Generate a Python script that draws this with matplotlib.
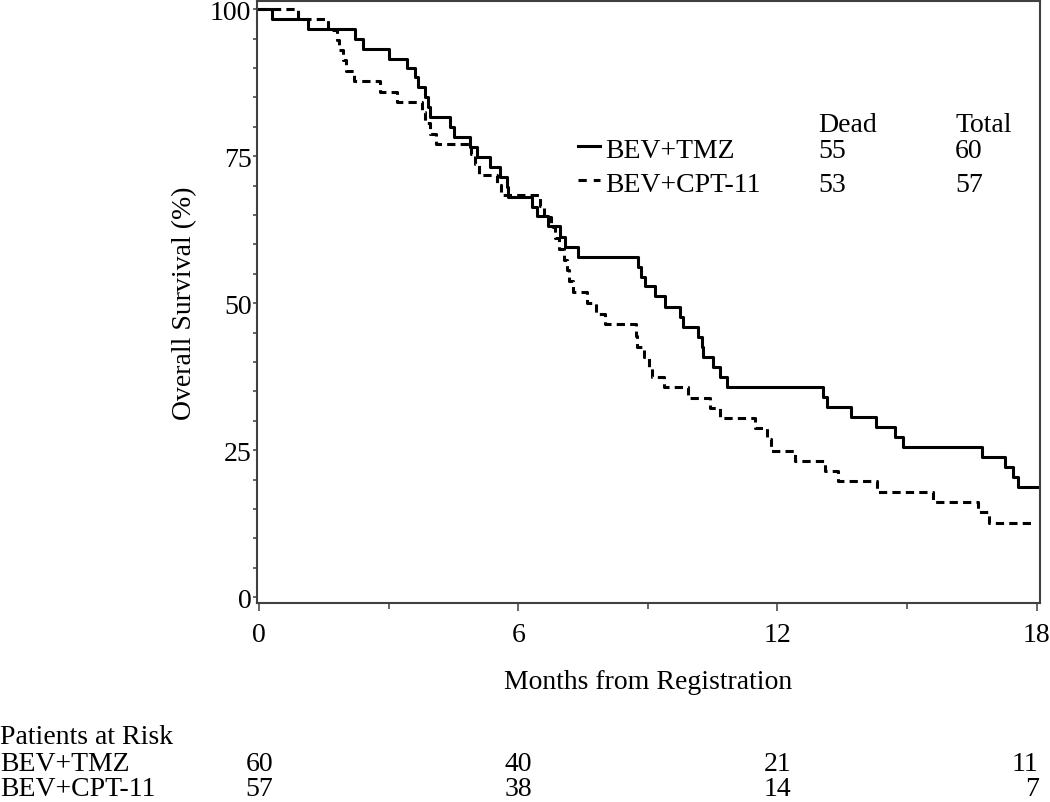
import matplotlib
matplotlib.use("Agg")
import matplotlib.pyplot as plt
from matplotlib.lines import Line2D
from matplotlib.ticker import MultipleLocator
from matplotlib.transforms import blended_transform_factory

plt.rcParams['font.family'] = ['Liberation Serif', 'DejaVu Serif']
plt.rcParams['font.size'] = 20

W, H = 1050, 803

# Kaplan-Meier steps (months, % surviving)
tmz_months = [0, 0.3, 1.13, 2.22, 2.4, 3.0, 3.43, 3.6, 3.68, 3.85, 3.92, 3.96,
              4.42, 4.5, 4.88, 5.04, 5.35, 5.58, 5.74, 5.77, 6.32, 6.43, 6.69,
              6.97, 7.08, 7.38, 8.77, 8.85, 8.94, 9.17, 9.4, 9.75, 9.81, 10.16,
              10.25, 10.28, 10.5, 10.67, 10.83, 13.06, 13.15, 13.7, 14.28, 14.72,
              14.9, 16.73, 17.27, 17.45, 17.58, 18.0]
tmz_surv = [100, 98.3, 96.7, 95.0, 93.3, 91.6, 90.0, 88.5, 86.8, 85.1, 83.4, 81.7,
            80.0, 78.2, 76.6, 74.8, 73.1, 71.4, 69.7, 68.0, 66.4, 64.8, 63.1,
            61.3, 59.5, 57.8, 56.1, 54.4, 53.0, 51.2, 49.3, 47.6, 45.9, 44.2,
            42.5, 40.8, 39.1, 37.4, 35.7, 34.0, 32.3, 30.6, 28.9, 27.2,
            25.5, 23.8, 22.1, 20.4, 18.7, 18.7]

cpt_months = [0, 0.9, 1.6, 1.8, 1.85, 1.95, 2.0, 2.2, 2.8, 3.2, 3.77, 3.85, 3.95,
              4.1, 4.9, 5.0, 5.1, 5.5, 5.6, 6.5, 6.6, 6.75, 6.85, 6.95, 7.05,
              7.12, 7.18, 7.27, 7.6, 7.8, 8.0, 8.73, 8.76, 8.9, 9.02, 9.1, 9.38,
              9.93, 10.44, 10.67, 11.48, 11.75, 11.85, 12.4, 13.1, 13.4, 14.3,
              15.6, 16.65, 16.9, 17.95]
cpt_surv = [100, 98.3, 96.5, 94.8, 93.1, 91.3, 89.5, 87.8, 86.0, 84.2, 82.5, 80.6, 78.8,
            77.1, 75.3, 73.6, 71.8, 70.1, 68.4, 66.6, 64.7, 62.9, 61.1, 59.3, 57.4,
            55.6, 53.8, 51.9, 50.1, 48.2, 46.4, 44.5, 42.6, 40.8, 39.0, 37.4, 35.7,
            33.9, 32.2, 30.4, 28.7, 26.9, 24.9, 23.1, 21.4, 19.7, 17.9,
            16.2, 14.5, 12.6, 12.6]

arms = ['BEV+TMZ', 'BEV+CPT-11']
dead = [55, 53]
total = [60, 57]

risk_months = [0, 6, 12, 18]
risk_tmz = [60, 40, 21, 11]
risk_cpt = [57, 38, 14, 7]


def fx(px):
    return px / W


def fy(py):
    return 1 - py / H


fig = plt.figure(figsize=(W / 100, H / 100), dpi=100)
ax = fig.add_axes([fx(257), fy(604), fx(1040) - fx(257), fy(2) - fy(604)])

lw = 2.2
ax.step(tmz_months, tmz_surv, where='post', color='black', lw=lw)
ax.step(cpt_months, cpt_surv, where='post', color='black', lw=lw, dashes=(2.7, 1.7))

ax.set_xlim(-0.05, 18.08)
ax.set_ylim(-1.0, 101.4)
ax.set_xticks(risk_months)
ax.xaxis.set_minor_locator(MultipleLocator(3))
ax.set_yticks([0, 25, 50, 75, 100])
ax.yaxis.set_minor_locator(MultipleLocator(5))
ax.tick_params(which='both', direction='out', width=1.2, color='0.3')
ax.tick_params(axis='x', which='major', length=6, pad=8)
ax.tick_params(axis='x', which='minor', length=4)
ax.tick_params(axis='y', which='major', length=3, pad=1)
ax.tick_params(axis='y', which='minor', length=3)
for s in ax.spines.values():
    s.set_linewidth(1.5)
    s.set_color('0.25')

ax.set_xlabel('Months from Registration')
ax.xaxis.set_label_coords(0.5, -0.11)
ax.set_ylabel('Overall Survival (%)')
ax.yaxis.set_label_coords(-0.077, 0.5)

# legend with Dead / Total columns
fig.text(fx(818), fy(131.5), 'Dead', va='baseline')
fig.text(fx(955), fy(131.5), 'Total', va='baseline')
styles = [dict(), dict(dashes=(2.7, 2.3))]
for i, arm in enumerate(arms):
    yb = [157.5, 191.5][i]
    ym = yb - 10.5
    fig.add_artist(Line2D([fx(578), fx(600)], [fy(ym), fy(ym)], color='black', lw=lw, **styles[i]))
    fig.text(fx(605), fy(yb), arm, va='baseline')
    fig.text(fx(818), fy(yb), str(dead[i]), va='baseline')
    fig.text(fx(955), fy(yb), str(total[i]), va='baseline')

# patients at risk table
trans = blended_transform_factory(ax.transData, fig.transFigure)
fig.text(0.0, fy(744), 'Patients at Risk', va='baseline')
for row, (arm, counts) in enumerate(zip(arms, [risk_tmz, risk_cpt])):
    yb = [771, 796][row]
    fig.text(0.0, fy(yb), arm, va='baseline')
    for m, n in zip(risk_months, counts):
        last = m == risk_months[-1]
        ax.text(m + (0.05 if last else 0), fy(yb), str(n), transform=trans,
                ha='right' if last else 'center', va='baseline')

fig.savefig('out.png', dpi=100)
